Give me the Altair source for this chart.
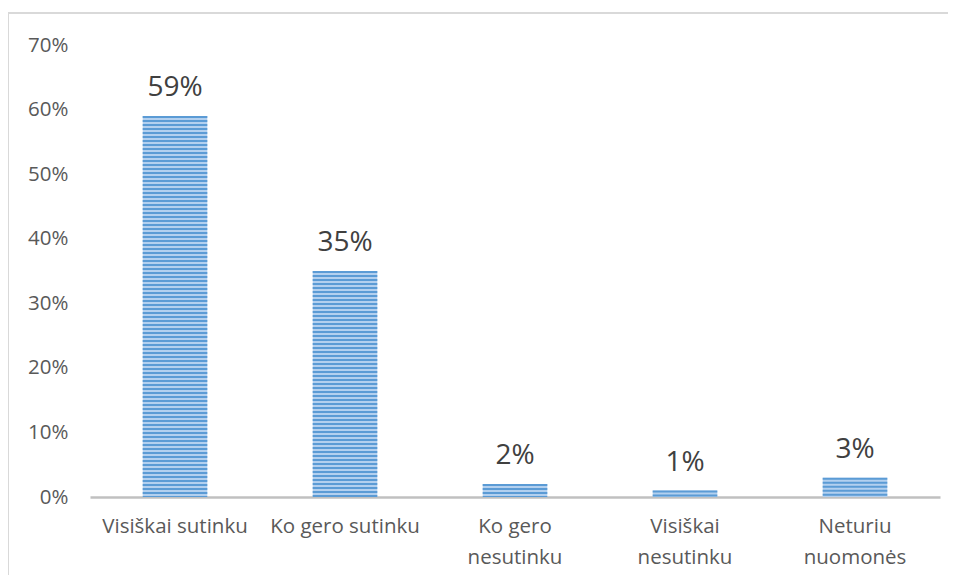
import altair as alt
import pandas as pd

categories = ["Visiškai sutinku", "Ko gero sutinku", "Ko gero nesutinku", "Visiškai nesutinku", "Neturiu nuomonės"]
label_lines = ["Visiškai sutinku", "Ko gero sutinku", "Ko gero|nesutinku", "Visiškai|nesutinku", "Neturiu|nuomonės"]
values = [0.59, 0.35, 0.02, 0.01, 0.03]
y_ticks = [0, 0.1, 0.2, 0.3, 0.4, 0.5, 0.6, 0.7]

df = pd.DataFrame({"cat": categories, "disp": label_lines, "val": values})

FONT = "Open Sans"

x = alt.X("disp:N", sort=label_lines, title=None,
          scale=alt.Scale(paddingInner=0.62, paddingOuter=0.31),
          axis=alt.Axis(labelExpr="split(datum.label, '|')", labelAngle=0,
                        labelFontSize=20.5, labelColor="#595959", labelFont=FONT,
                        labelLineHeight=31, labelPadding=19, ticks=False,
                        domainColor="#c0c0c0", domainWidth=2.5, labelBaseline="top"))
y = alt.Y("val:Q", title=None,
          scale=alt.Scale(domain=[0, 0.7], nice=False),
          axis=alt.Axis(values=y_ticks, format=".0%", grid=False, domain=False, ticks=False,
                        labelFontSize=20.5, labelColor="#595959", labelFont=FONT, labelPadding=22))

bars = alt.Chart(df).mark_bar(color="#b3d0ef").encode(x=x, y=y)

stripes = alt.Chart(df).mark_rule(color="#5b9bd5", strokeWidth=64.6, strokeDash=[2, 2], strokeCap="butt").encode(
    x=alt.X("disp:N", sort=label_lines),
    y="val:Q",
    y2=alt.datum(0),
)

labels = alt.Chart(df).mark_text(dy=-20, fontSize=28, color="#404040", font=FONT, baseline="alphabetic").encode(
    x=alt.X("disp:N", sort=label_lines),
    y="val:Q",
    text=alt.Text("val:Q", format=".0%"),
)

border = alt.Chart(df).mark_rule(color="#d9d9d9", strokeWidth=2).encode(
    x=alt.value(-82), x2=alt.value(-82), y=alt.value(-32), y2=alt.value(600))
border_top = alt.Chart(df).mark_rule(color="#d9d9d9", strokeWidth=2).encode(
    x=alt.value(-82), x2=alt.value(880), y=alt.value(-32), y2=alt.value(-32))

chart = alt.layer(border, border_top, bars, stripes, labels).properties(
    width=850, height=452,
    autosize=alt.AutoSizeParams(type="none"),
    padding={"left": 82, "top": 37, "right": 8, "bottom": 78},
).configure_view(stroke=None)

chart.save("out.html", embed_options={"renderer": "svg", "actions": False})
